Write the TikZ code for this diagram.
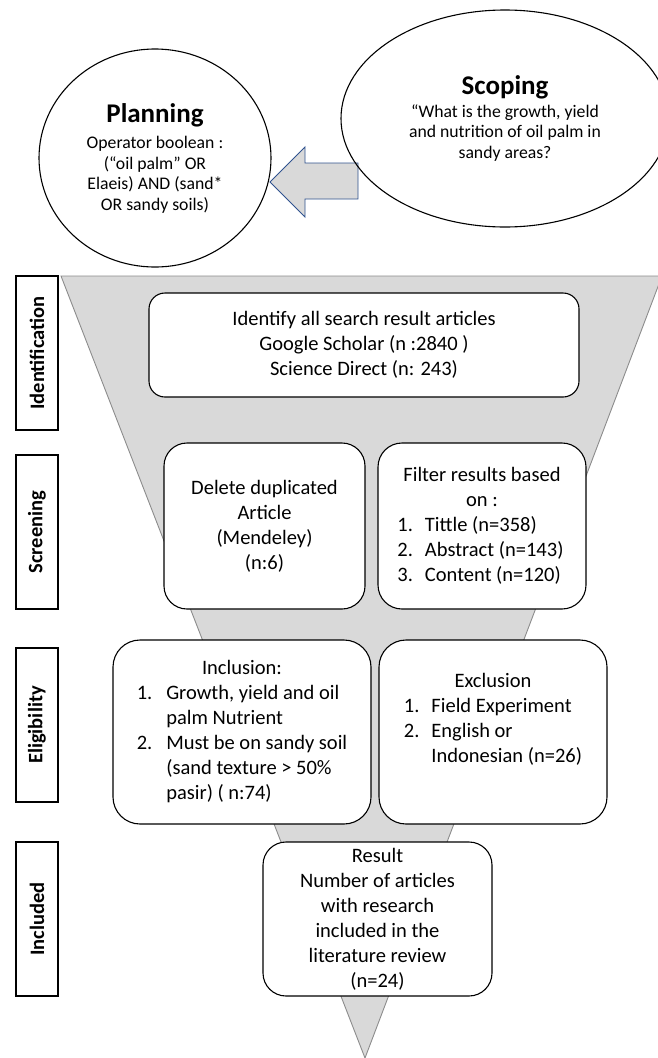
\documentclass[tikz,border=0pt]{standalone}
\usepackage{fontspec}
\setmainfont{Carlito}
\usetikzlibrary{shapes.geometric}
\definecolor{funnelfill}{HTML}{D9D9D9}
\definecolor{funneledge}{HTML}{8C8C8C}
\definecolor{arrowedge}{HTML}{2F528F}
\newcommand\diagbody{\fontsize{20.5}{25}\selectfont}
\newcommand\diagsmall{\fontsize{17.7}{20.5}\selectfont}
\begin{document}
\begin{tikzpicture}[x=1pt,y=-1pt,
  box/.style={draw=black, line width=1.1pt, fill=white, rounded corners=#1,
    inner sep=0pt, align=center, font=\diagbody},
  lbl/.style={draw=black, line width=1.1pt, fill=white, minimum width=154pt,
    minimum height=42pt, rotate=90, inner sep=0pt,
    font=\fontsize{20.5}{25}\selectfont\bfseries},
  bubble/.style={ellipse, draw=black, line width=1.1pt, inner sep=0pt,
    align=center, font=\diagsmall}]
\clip (0,0) rectangle (658,1058);
% funnel
\draw[funneledge, line width=0.9pt, fill=funnelfill]
  (61,276) -- (662,276) -- (365,1058) -- cycle;
% block arrow from Scoping to Planning
\draw[arrowedge, line width=0.9pt, fill=funnelfill]
  (270,182) -- (305,147) -- (305,163) -- (358,163) -- (358,199)
  -- (305,199) -- (305,217) -- cycle;
% ellipses
\node[bubble, minimum width=232pt, minimum height=218pt] (plan) at (155,158)
  {{\fontsize{27}{30}\selectfont\bfseries Planning}\\[6pt]
   Operator boolean :\\(“oil palm” OR\\Elaeis) AND (sand*\\OR sandy soils)};
\node[bubble, minimum width=328pt, minimum height=217pt] (scope) at (505,118.5)
  {{\fontsize{27}{30}\selectfont\bfseries Scoping}\\[2pt]
   “What is the growth, yield\\and nutrition of oil palm in\\sandy areas?};
% stage labels
\node[lbl] (lid) at (37,353) {Identification};
\node[lbl] (lsc) at (37,532) {Screening};
\node[lbl] (lel) at (37,725) {Eligibility};
\node[lbl] (lin) at (37,919) {Included};
% boxes
\node[box=16pt, minimum width=430pt, minimum height=104pt] (ident) at (364,345)
  {Identify all search result articles\\Google Scholar (n :2840 )\\Science Direct (n: 243)};
\node[box=23pt, minimum width=201pt, minimum height=166pt] (dele) at (264.5,526)
  {Delete duplicated\\Article\\(Mendeley)\\(n:6)};
\node[box=24pt, minimum width=208pt, minimum height=166pt] (filt) at (482,526)
  {\begin{tabular}{@{}l@{\hspace{12pt}}l@{}}
   \multicolumn{2}{c}{Filter results based}\\
   \multicolumn{2}{c}{on :}\\
   1. & Tittle (n=358)\\
   2. & Abstract (n=143)\\
   3. & Content (n=120)
   \end{tabular}};
\node[box=27pt, minimum width=258pt, minimum height=184pt] (incl) at (242,732)
  {\begin{tabular}{@{}l@{\hspace{14pt}}l@{}}
   \multicolumn{2}{c}{Inclusion:}\\
   1. & Growth, yield and oil\\
      & palm Nutrient\\
   2. & Must be on sandy soil\\
      & (sand texture > 50\%\\
      & pasir) ( n:74)
   \end{tabular}};
\node[box=27pt, minimum width=228pt, minimum height=184pt] (excl) at (493,732) {};
\node[align=center, inner sep=0pt, font=\diagbody] (excltext) at (493,720)
  {\begin{tabular}{@{}l@{\hspace{12pt}}l@{}}
   \multicolumn{2}{c}{Exclusion}\\
   1. & Field Experiment\\
   2. & English or\\
      & Indonesian (n=26)
   \end{tabular}};
\node[box=23pt, minimum width=229pt, minimum height=154pt] (res) at (377.5,919)
  {Result\\Number of articles\\with research\\included in the\\literature review\\(n=24)};
\end{tikzpicture}
\end{document}
